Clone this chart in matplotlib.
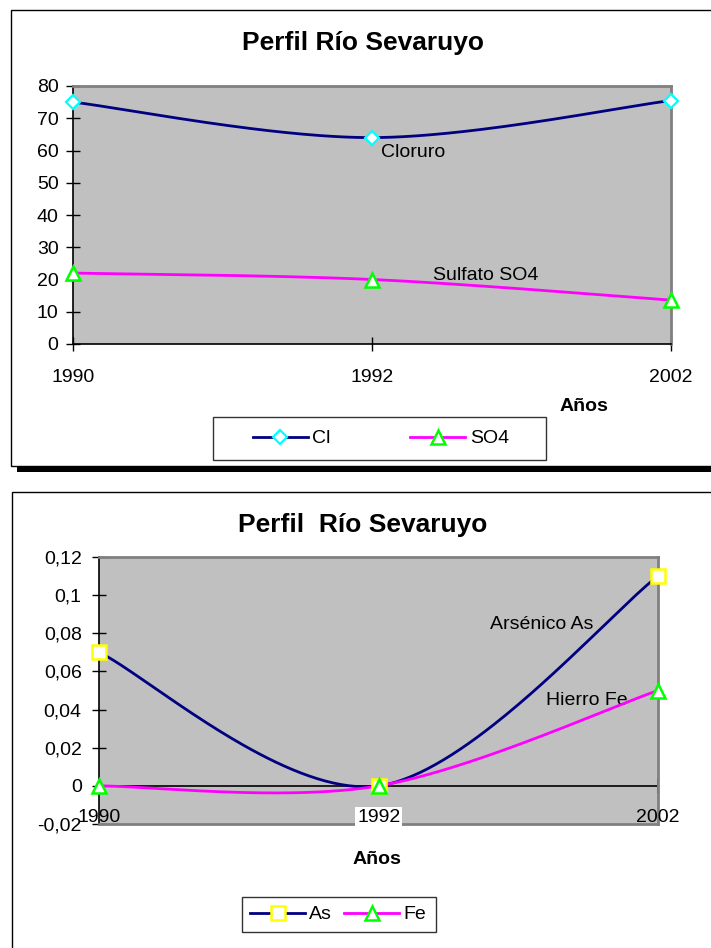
import numpy as np
import matplotlib
matplotlib.use("Agg")
import matplotlib.pyplot as plt
from matplotlib.patches import Rectangle
from matplotlib.lines import Line2D

plt.rcParams['font.family'] = ['Liberation Sans', 'DejaVu Sans']

# ---------------- data ----------------
years = ['1990', '1992', '2002']
cl_values = [75, 64, 75.5]
so4_values = [22, 20, 13.6]
as_values = [0.07, 0.0, 0.11]
fe_values = [0.0, 0.0, 0.05]

top_yticks = [0, 10, 20, 30, 40, 50, 60, 70, 80]
bot_yticks = [-0.02, 0.0, 0.02, 0.04, 0.06, 0.08, 0.10, 0.12]
bot_yticklabels = ['-0,02', '0', '0,02', '0,04', '0,06', '0,08', '0,1', '0,12']

title_top = 'Perfil Río Sevaruyo'
title_bot = 'Perfil  Río Sevaruyo'

NAVY = '#000080'
MAGENTA = '#FF00FF'
GRAY = '#C0C0C0'
BORDER = '#808080'

W, H = 711, 948


def fx(px):
    return px / W


def fy(py):
    return 1 - py / H


def smooth(ys, n=80):
    """Excel-style smoothed line (cubic Bezier, Catmull-Rom control points)."""
    xs = np.arange(len(ys), dtype=float)
    ys = np.asarray(ys, dtype=float)
    P = np.column_stack([xs, ys])
    out = []
    m = len(P)
    for i in range(m - 1):
        p0 = P[i]
        p1 = P[i + 1]
        pm = P[i - 1] if i > 0 else P[i]
        pp = P[i + 2] if i + 2 < m else P[i + 1]
        c1 = p0 + (p1 - pm) / 6.0
        c2 = p1 - (pp - p0) / 6.0
        t = np.linspace(0, 1, n)[:, None]
        seg = ((1 - t) ** 3) * p0 + 3 * ((1 - t) ** 2) * t * c1 + 3 * (1 - t) * t ** 2 * c2 + t ** 3 * p1
        out.append(seg if i == 0 else seg[1:])
    arr = np.vstack(out)
    return arr[:, 0], arr[:, 1]


fig = plt.figure(figsize=(W / 100, H / 100), dpi=100)

# ---------------- chart frames ----------------
fig.patches.append(Rectangle((fx(11), fy(466)), fx(760) - fx(11), fy(10) - fy(466),
                             transform=fig.transFigure, facecolor='white',
                             edgecolor='black', lw=1.0, zorder=-2))
fig.patches.append(Rectangle((fx(17), fy(472)), fx(720) - fx(17), fy(467) - fy(472),
                             transform=fig.transFigure, facecolor='black',
                             edgecolor='none', zorder=-2))
fig.patches.append(Rectangle((fx(12), fy(1000)), fx(760) - fx(12), fy(492) - fy(1000),
                             transform=fig.transFigure, facecolor='white',
                             edgecolor='black', lw=1.0, zorder=-2))

TICK = 14
xpos = np.arange(len(years))

MS_D = 7.5
MS_T = 10
MS_S = 10

# ---------------- top chart ----------------
ax1 = fig.add_axes([fx(73.4), fy(344), fx(671) - fx(73.4), fy(86) - fy(344)])
ax1.set_facecolor(GRAY)
sx, sy = smooth(cl_values)
ax1.plot(sx, sy, color=NAVY, lw=2.0, zorder=3)
sx, sy = smooth(so4_values)
ax1.plot(sx, sy, color=MAGENTA, lw=2.0, zorder=3)
ax1.plot(xpos, cl_values, linestyle='none', marker='D', ms=MS_D, mfc='white',
         mec='#00FFFF', mew=1.6, zorder=4, clip_on=False)
ax1.plot(xpos, so4_values, linestyle='none', marker='^', ms=MS_T, mfc='white',
         mec='#00FF00', mew=1.8, zorder=4, clip_on=False)
ax1.set_xlim(0, 2)
ax1.set_ylim(0, 80)
ax1.set_yticks(top_yticks)
ax1.set_yticklabels([str(v) for v in top_yticks], fontsize=TICK)
ax1.set_xticks(xpos)
ax1.set_xticklabels(years, fontsize=TICK)
ax1.tick_params(axis='y', direction='inout', length=9.4, width=1, pad=6, color='black')
ax1.tick_params(axis='x', direction='inout', length=10, width=1, pad=13, color='black')
for s in ['top', 'right']:
    ax1.spines[s].set_color(BORDER)
    ax1.spines[s].set_linewidth(2)
for s in ['left', 'bottom']:
    ax1.spines[s].set_color('black')
    ax1.spines[s].set_linewidth(1.2)
ax1.text(1.03, 59.5, 'Cloruro', fontsize=14, ha='left', va='center', zorder=1)
ax1.text(1.203, 21.3, 'Sulfato SO4', fontsize=14, ha='left', va='center', zorder=1)

fig.text(fx(363), fy(43), title_top, fontsize=19, fontweight='bold', ha='center', va='center')
fig.text(fx(584), fy(407), 'Años', fontsize=14, fontweight='bold', ha='center', va='center')

fig.patches.append(Rectangle((fx(213), fy(460)), fx(546) - fx(213), fy(417) - fy(460),
                             transform=fig.transFigure, facecolor='white',
                             edgecolor='#333333', lw=1.0, zorder=1))
h1 = [Line2D([], [], color=NAVY, lw=2.0, marker='D', ms=MS_D, mfc='white', mec='#00FFFF', mew=1.6),
      Line2D([], [], color=MAGENTA, lw=2.0, marker='^', ms=MS_T, mfc='white', mec='#00FF00', mew=1.8)]
leg1 = fig.legend(h1, ['Cl', 'SO4'], loc='center', bbox_to_anchor=(fx(381), fy(438.5)),
                  bbox_transform=fig.transFigure, ncol=2, frameon=False, fontsize=14,
                  handlelength=2.8, handletextpad=0.25, columnspacing=4.1, borderpad=0,
                  numpoints=1)
leg1.set_zorder(5)

# ---------------- bottom chart ----------------
ax2 = fig.add_axes([fx(99.3), fy(824), fx(658) - fx(99.3), fy(557) - fy(824)])
ax2.set_facecolor(GRAY)
ax2.axhline(0, color='black', lw=1.2, zorder=2)
ax2.plot(xpos, np.zeros(len(xpos)), linestyle='none', marker='|', ms=10, mew=1.2,
         color='black', zorder=2, clip_on=False)
sx, sy = smooth(as_values)
ax2.plot(sx, sy, color=NAVY, lw=2.0, zorder=3)
sx, sy = smooth(fe_values)
ax2.plot(sx, sy, color=MAGENTA, lw=2.0, zorder=3)
ax2.plot(xpos, as_values, linestyle='none', marker='s', ms=MS_S, mfc='white',
         mec='#FFFF00', mew=1.8, zorder=4, clip_on=False)
ax2.plot(xpos, fe_values, linestyle='none', marker='^', ms=MS_T, mfc='white',
         mec='#00FF00', mew=1.8, zorder=4, clip_on=False)
ax2.set_xlim(0, 2)
ax2.set_ylim(-0.02, 0.12)
ax2.set_yticks(bot_yticks)
ax2.set_yticklabels(bot_yticklabels, fontsize=TICK)
ax2.set_xticks([])
ax2.tick_params(axis='y', direction='inout', length=9.4, width=1, pad=8, color='black')
for s in ['top', 'right', 'bottom']:
    ax2.spines[s].set_color(BORDER)
    ax2.spines[s].set_linewidth(2)
ax2.spines['left'].set_color('black')
ax2.spines['left'].set_linewidth(1.2)
for i, lab in enumerate(years):
    kw = {}
    if i == 1:
        kw['bbox'] = dict(facecolor='white', edgecolor='none', pad=1.5)
    ax2.text(xpos[i], 0.006, lab, fontsize=TICK, ha='center', va='baseline',
             transform=ax2.get_xaxis_transform(), zorder=6, clip_on=False, **kw)
ax2.text(1.40, 0.0846, 'Arsénico As', fontsize=14, ha='left', va='center', zorder=1)
ax2.text(1.60, 0.0449, 'Hierro Fe', fontsize=14, ha='left', va='center', zorder=1)

fig.text(fx(363), fy(525), title_bot, fontsize=19, fontweight='bold', ha='center', va='center')
fig.text(fx(377), fy(859), 'Años', fontsize=14, fontweight='bold', ha='center', va='center')

fig.patches.append(Rectangle((fx(242), fy(932)), fx(436) - fx(242), fy(897) - fy(932),
                             transform=fig.transFigure, facecolor='white',
                             edgecolor='#333333', lw=1.0, zorder=1))
h2 = [Line2D([], [], color=NAVY, lw=2.0, marker='s', ms=MS_S, mfc='white', mec='#FFFF00', mew=1.8),
      Line2D([], [], color=MAGENTA, lw=2.0, marker='^', ms=MS_T, mfc='white', mec='#00FF00', mew=1.8)]
leg2 = fig.legend(h2, ['As', 'Fe'], loc='center', bbox_to_anchor=(fx(338), fy(914.5)),
                  bbox_transform=fig.transFigure, ncol=2, frameon=False, fontsize=14,
                  handlelength=2.85, handletextpad=0.2, columnspacing=0.6, borderpad=0,
                  numpoints=1)
leg2.set_zorder(5)

fig.savefig('out.png', dpi=100)
